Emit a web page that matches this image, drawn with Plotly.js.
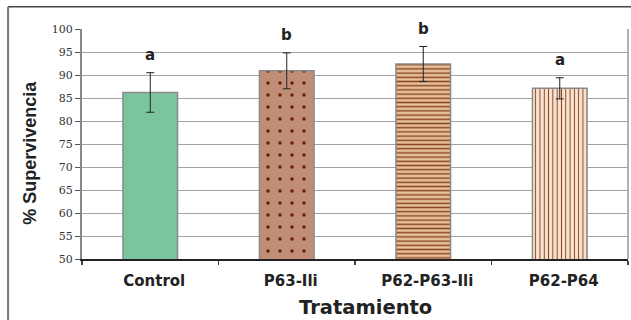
<!DOCTYPE html>
<html>
<head>
<meta charset="utf-8">
<script src="https://cdn.plot.ly/plotly-3.0.1.min.js"></script>
<style>
  html, body { margin: 0; padding: 0; background: #ffffff; }
  #chart { width: 631px; height: 320px; }
</style>
</head>
<body>
<div id="chart"></div>
<script>
// ---- data ----
const categories = ["Control", "P63-Ili", "P62-P63-Ili", "P62-P64"];
const survival = [86.2, 90.9, 92.4, 87.1];
const stdError = [4.3, 3.9, 3.8, 2.3];
const groupLetters = ["a", "b", "b", "a"];

// ---- styles ----
const fillColors = ["#7cc49e", "#c08e76", "#e7c09a", "#f6e3cf"];
const patterns = [
  { shape: "" },
  { shape: ".", fgcolor: "#6e1e08", bgcolor: "#c08e76", size: 12, solidity: 0.07, fillmode: "replace" },
  { shape: "-", fgcolor: "#8a4426", bgcolor: "#e7c09a", size: 4.2, solidity: 0.35, fillmode: "replace" },
  { shape: "|", fgcolor: "#8b3a1a", bgcolor: "#f6e3cf", size: 4.3, solidity: 0.22, fillmode: "replace" }
];

const yMin = 50, yMax = 100;

const traces = categories.map((c, i) => ({
  type: "bar",
  x: [c],
  y: [survival[i]],
  width: 0.4,
  marker: {
    color: fillColors[i],
    line: { color: "#8a8a8a", width: 1.5 },
    pattern: patterns[i]
  },
  error_y: { type: "data", array: [stdError[i]], visible: true, color: "#222", thickness: 1, width: 4 },
  showlegend: false,
  hoverinfo: "skip"
}));

const letterOffset = 3.8;
const annotations = categories.map((c, i) => ({
  x: c, xref: "x",
  y: (survival[i] + stdError[i] + letterOffset - yMin) / (yMax - yMin), yref: "paper",
  text: groupLetters[i],
  showarrow: false,
  font: { family: "DejaVu Sans", size: 15, color: "#222", weight: "bold" },
  xanchor: "center", yanchor: "middle"
}));

annotations.push({
  xref: "paper", yref: "paper", x: 0.52, y: -0.21, yanchor: "middle", xanchor: "center",
  text: "<b>Tratamiento</b>", showarrow: false,
  font: { family: "DejaVu Sans", size: 19.5, color: "#222" }
});
annotations.push({
  xref: "paper", yref: "paper", x: -0.095, y: 0.462, xanchor: "center", yanchor: "middle",
  textangle: -90,
  text: "<b>% Supervivencia</b>", showarrow: false,
  font: { family: "Liberation Sans", size: 18, color: "#222" }
});

const layout = {
  width: 631, height: 320,
  margin: { l: 82, r: 3, t: 29, b: 61, pad: 0 },
  paper_bgcolor: "#ffffff",
  plot_bgcolor: "#ffffff",
  bargap: 0.6,
  xaxis: {
    type: "category",
    showline: true, linecolor: "#222", linewidth: 1.5,
    ticks: "outside", tickson: "boundaries", ticklen: 4, tickcolor: "#444", tickwidth: 1.5,
    showgrid: false, zeroline: false,
    tickfont: { family: "DejaVu Sans", size: 15, color: "#222", weight: "bold" },
    ticklabelshift: 4,
    ticklabelstandoff: 7,
    fixedrange: true
  },
  yaxis: {
    range: [yMin, yMax], dtick: 5, tick0: 50,
    showline: true, linecolor: "#888", linewidth: 2,
    ticks: "outside", ticklen: 5, tickcolor: "#555", tickwidth: 1,
    showgrid: true, gridcolor: "#a3a3a3", gridwidth: 1,
    zeroline: false,
    tickfont: { family: "DejaVu Serif", size: 11, color: "#333" },
    fixedrange: true
  },
  annotations: annotations,
  shapes: [
    { type: "line", xref: "paper", yref: "paper", x0: 1, x1: 1, y0: 0, y1: 1, line: { color: "#999", width: 1.5 } },
    { type: "line", xref: "paper", yref: "paper", x0: -0.1354, x1: 1.01, y0: 1.097, y1: 1.097, line: { color: "#444", width: 1.5 } },
    { type: "line", xref: "paper", yref: "paper", x0: -0.1354, x1: -0.1354, y0: 1.097, y1: -0.3, line: { color: "#777", width: 2 } }
  ]
};

Plotly.newPlot("chart", traces, layout, { displayModeBar: false, staticPlot: true });
</script>
</body>
</html>
